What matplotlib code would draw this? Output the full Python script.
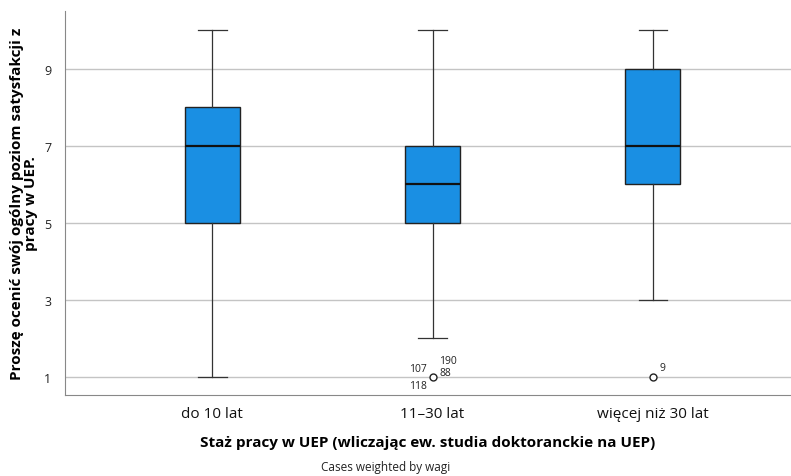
import matplotlib.pyplot as plt

# boxplot summaries per seniority group
groups = ['do 10 lat', '11–30 lat', 'więcej niż 30 lat']
whis_lo = [1, 2, 3]
q1 = [5, 5, 6]
med = [7, 6, 7]
q3 = [8, 7, 9]
whis_hi = [10, 10, 10]
outliers = [[], [1], [1]]
outlier_ids = [[], ['107', '190', '88', '118'], ['9']]

plt.rcParams['font.family'] = ['Open Sans', 'DejaVu Sans']

fig = plt.figure(figsize=(7.91, 4.77), dpi=100)
ax = fig.add_axes([65 / 791, 81 / 477, 726 / 791, 384 / 477])

stats = []
for i, g in enumerate(groups):
    stats.append(dict(label=g, whislo=whis_lo[i], q1=q1[i], med=med[i],
                      q3=q3[i], whishi=whis_hi[i], fliers=outliers[i]))

pos = [1, 2, 3]
ax.bxp(stats, positions=pos, widths=0.25, patch_artist=True,
       capwidths=0.13,
       boxprops=dict(facecolor='#1a8fe3', edgecolor='#222222', linewidth=1),
       medianprops=dict(color='#111111', linewidth=1.6),
       whiskerprops=dict(color='#333333', linewidth=0.9),
       capprops=dict(color='#333333', linewidth=0.9),
       flierprops=dict(marker='o', markersize=5, markerfacecolor='white',
                       markeredgecolor='#222222', markeredgewidth=1),
       zorder=3)

# case ids next to outliers
offsets = {'107': (-4, 6, 'right'), '190': (5, 12, 'left'),
           '88': (5, 3, 'left'), '118': (-4, -6, 'right'), '9': (5, 7, 'left')}
for i, ids in enumerate(outlier_ids):
    for cid in ids:
        dx, dy, ha = offsets[cid]
        ax.annotate(cid, (pos[i], outliers[i][0]), xytext=(dx, dy),
                    textcoords='offset points', ha=ha, va='center',
                    fontsize=7.5, color='#222222')

ax.set_xlim(0.332, 3.627)
ax.set_ylim(0.53, 10.5)
ax.set_yticks([1, 3, 5, 7, 9])
ax.yaxis.grid(True, color='#c4c4c4', linewidth=1, zorder=0)
ax.set_axisbelow(True)
ax.tick_params(axis='y', length=0, labelsize=9, pad=10, colors='#222222')
ax.tick_params(axis='x', length=0, labelsize=11, pad=8, colors='#111111')
for s in ['top', 'right']:
    ax.spines[s].set_visible(False)
for s in ['left', 'bottom']:
    ax.spines[s].set_color('#888888')

ax.set_ylabel('Proszę ocenić swój ogólny poziom satysfakcji z\npracy w UEP.',
              fontsize=11, fontweight='bold', labelpad=4, linespacing=1.0)
ax.set_xlabel('Staż pracy w UEP (wliczając ew. studia doktoranckie na UEP)',
              fontsize=11, fontweight='bold', labelpad=10)
fig.text(386 / 791, 1 - 468 / 477, 'Cases weighted by wagi',
         ha='center', va='center', fontsize=8.5, color='#222222')

fig.savefig('out.png', dpi=100)
